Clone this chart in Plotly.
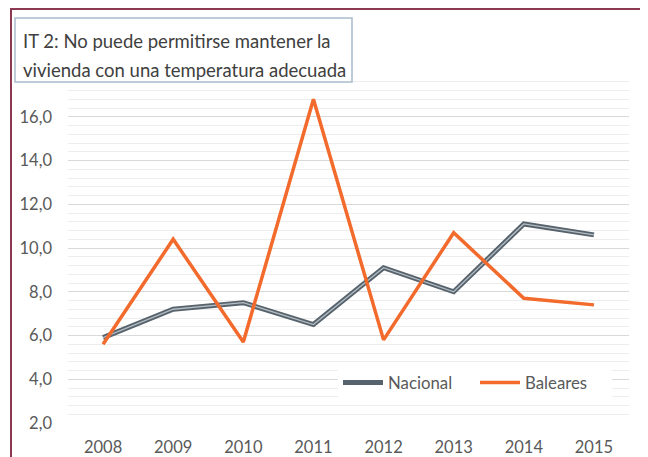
import plotly.graph_objects as go

years = ["2008", "2009", "2010", "2011", "2012", "2013", "2014", "2015"]
nacional = [5.9, 7.2, 7.5, 6.5, 9.1, 8.0, 11.1, 10.6]
baleares = [5.6, 10.4, 5.7, 16.8, 5.8, 10.7, 7.7, 7.4]
ytick_vals = [2, 4, 6, 8, 10, 12, 14, 16]
title_lines = ["IT 2: No puede permitirse mantener la",
               "vivienda con una temperatura adecuada"]

OFF = 8  # page body margin offset
W, H = 648 - OFF, 457 - OFF
L, R, T, B = 68 - OFF, 19, 73 - OFF, 34
pw, ph = W - L - R, H - T - B

def px(x):
    return (x - OFF - L) / pw

def py(y):
    return (H - B - (y - OFF)) / ph

fig = go.Figure()
fig.add_trace(go.Scatter(x=years, y=nacional, mode="lines", name="Nacional",
                         line=dict(color="#56636d", width=5)))
fig.add_trace(go.Scatter(x=years, y=nacional, mode="lines", name="Nacional",
                         showlegend=False, hoverinfo="skip",
                         line=dict(color="#b4bcc2", width=1.3)))
fig.add_trace(go.Scatter(x=years, y=baleares, mode="lines", name="Baleares",
                         line=dict(color="#f26a2c", width=3.5)))

font_family = "Lato, 'Noto Sans', sans-serif"

fig.update_layout(
    width=W, height=H,
    margin=dict(l=L, r=R, t=T, b=B, autoexpand=False),
    paper_bgcolor="white", plot_bgcolor="white",
    separators=", ",
    font=dict(family=font_family, color="#595959", size=16.5),
    showlegend=True,
    legend=dict(orientation="h", x=px(338), y=py(365), xanchor="left", yanchor="top",
                bgcolor="white", font=dict(size=16.8, color="#595959"),
                itemwidth=40, entrywidth=82, tracegroupgap=0),
    xaxis=dict(type="category", range=[-0.5, 7.5], showgrid=False, zeroline=False,
               showline=False, ticks="", tickfont=dict(size=16.5, color="#595959"),
               ticklabelstandoff=12, automargin=False),
    yaxis=dict(range=[2, 18], tickvals=ytick_vals, tickformat=".1f",
               showgrid=True, gridcolor="#d9d9d9", gridwidth=1,
               zeroline=False, showline=False, ticks="",
               tickfont=dict(size=16.5, color="#595959"),
               ticklabelstandoff=15, automargin=False,
               minor=dict(dtick=0.4, showgrid=True, gridcolor="#ededed", gridwidth=1)),
    shapes=[
        dict(type="line", xref="paper", yref="paper", x0=px(11), x1=px(660),
             y0=py(9), y1=py(9), line=dict(color="#8c3a52", width=2)),
        dict(type="line", xref="paper", yref="paper", x0=px(11), x1=px(11),
             y0=py(8), y1=py(470), line=dict(color="#8c3a52", width=2)),
        dict(type="rect", xref="paper", yref="paper", x0=px(15), x1=px(352),
             y0=py(82), y1=py(18), fillcolor="white",
             line=dict(color="#a9bccd", width=1.5), layer="above"),
    ],
    annotations=[
        dict(text=title_lines[0], xref="paper", yref="paper", x=px(21), y=py(41),
             xanchor="left", yanchor="middle", showarrow=False,
             font=dict(size=18.5, color="#404040", family=font_family)),
        dict(text=title_lines[1], xref="paper", yref="paper", x=px(21), y=py(70),
             xanchor="left", yanchor="middle", showarrow=False,
             font=dict(size=18.5, color="#404040", family=font_family)),
    ],
)

fig.write_html("out.html")
